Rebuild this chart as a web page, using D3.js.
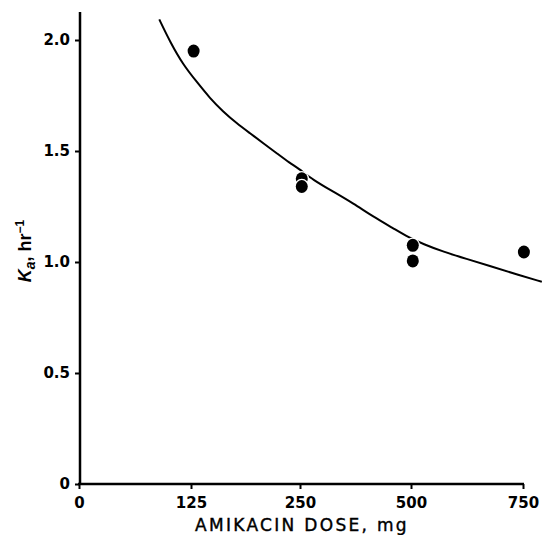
<!DOCTYPE html>
<html><head><meta charset="utf-8">
<script src="https://cdn.jsdelivr.net/npm/d3@7/dist/d3.min.js"></script>
<style>
html,body{margin:0;padding:0;background:#fff;}
svg{display:block;}
</style></head>
<body>
<svg id="chart" width="542" height="535"></svg>
<script>
// ---- data ----
const xTicks = [0, 125, 250, 500, 750];
const yTicks = [0, 0.5, 1.0, 1.5, 2.0];
const yTickLabels = ["0", "0.5", "1.0", "1.5", "2.0"];
const pointDose = [128, 254, 254, 504, 504, 752];
const pointKa   = [1.95, 1.375, 1.34, 1.075, 1.005, 1.045];
const curveDose = [89.6, 101.6, 116.5, 131.5, 146.8, 162, 177.4, 192.7, 207.9, 223.3, 238.6, 248.1,
                   280, 325, 370, 415, 460, 494, 527.5, 572, 624, 676, 728, 792];
const curveKa   = [2.093, 1.992, 1.887, 1.812, 1.737, 1.677, 1.625, 1.580, 1.535, 1.490, 1.445, 1.422,
                   1.369, 1.317, 1.264, 1.204, 1.152, 1.111, 1.081, 1.046, 1.014, 0.982, 0.949, 0.911];

const svg = d3.select("#chart");
// x scale: ticks evenly spaced on the original axis (piecewise)
const x = d3.scaleLinear().domain(xTicks).range([79, 191, 300, 411, 523]);
const y = d3.scaleLinear().domain([0, 2.0]).range([484, 40]);

// curve
const curvePts = curveDose.map((d, i) => [d, curveKa[i]]);
svg.append("path")
  .datum(curvePts)
  .attr("fill", "none")
  .attr("stroke", "#000")
  .attr("stroke-width", 2)
  .attr("d", d3.line().x(d => x(d[0])).y(d => y(d[1])).curve(d3.curveBasis));

// points
const pts = pointDose.map((d, i) => [d, pointKa[i]]);
svg.append("g").selectAll("ellipse").data(pts).join("ellipse")
  .attr("cx", d => x(d[0])).attr("cy", d => y(d[1]))
  .attr("rx", 6).attr("ry", 6.5)
  .attr("fill", "#000").attr("stroke", "#fff").attr("stroke-width", 2.5)
  .attr("paint-order", "stroke");

// axes
const yAxis = d3.axisLeft(y).tickValues(yTicks).tickSize(5).tickPadding(5)
  .tickFormat((d, i) => yTickLabels[i]);
const gy = svg.append("g").attr("transform", "translate(80,0)").call(yAxis);
gy.select(".domain").remove();
gy.append("line").attr("x1", 0).attr("x2", 0).attr("y1", 12).attr("y2", 485)
  .attr("stroke", "#000").attr("stroke-width", 2.5);
gy.selectAll(".tick line").attr("stroke-width", 2);
gy.selectAll(".tick text").attr("font-family", "'DejaVu Sans', sans-serif")
  .attr("font-weight", "bold").attr("font-size", 15).attr("fill", "#000");

const xAxis = d3.axisBottom(x).tickValues(xTicks).tickSize(5).tickPadding(8)
  .tickFormat(d3.format("d"));
const gx = svg.append("g").attr("transform", "translate(0,484)").call(xAxis);
gx.select(".domain").remove();
gx.append("line").attr("x1", 78).attr("x2", 524).attr("y1", 0).attr("y2", 0)
  .attr("stroke", "#000").attr("stroke-width", 2.5);
gx.selectAll(".tick line").attr("stroke-width", 2);
gx.selectAll(".tick text").attr("font-family", "'DejaVu Sans', sans-serif")
  .attr("font-weight", "bold").attr("font-size", 15).attr("fill", "#000");

// axis titles
svg.append("text")
  .attr("x", 302).attr("y", 531)
  .attr("text-anchor", "middle")
  .attr("font-family", "'DejaVu Sans', sans-serif")
  .attr("font-size", 17).attr("letter-spacing", 2.3)
  .attr("stroke", "#000").attr("stroke-width", 0.4)
  .attr("fill", "#000")
  .text("AMIKACIN DOSE, mg");

const yl = svg.append("text")
  .attr("transform", "translate(31,251) rotate(-90)")
  .attr("text-anchor", "middle")
  .attr("font-family", "'Liberation Sans', Arial, sans-serif")
  .attr("font-size", 18).attr("font-weight", "bold")
  .attr("fill", "#000");
yl.append("tspan").attr("font-style", "italic").text("K");
yl.append("tspan").attr("font-style", "italic").attr("font-size", 14).attr("dy", 4).text("a");
yl.append("tspan").attr("dy", -4).text(", hr");
yl.append("tspan").attr("font-size", 12).attr("dy", -7).text("\u22121");
</script>
</body></html>
